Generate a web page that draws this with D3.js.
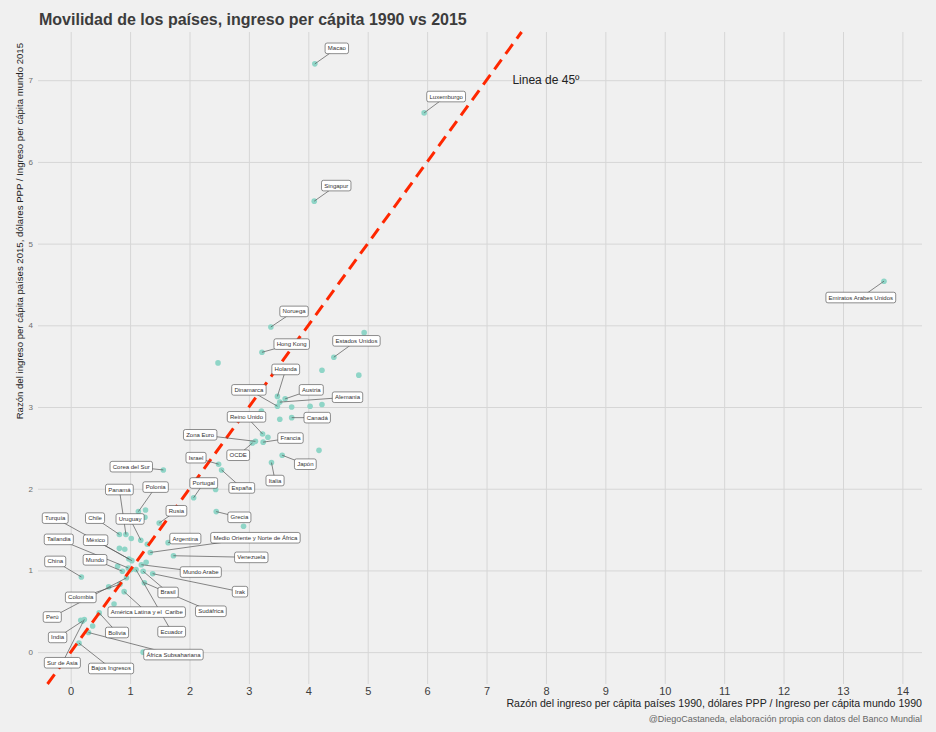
<!DOCTYPE html>
<html>
<head>
<meta charset="utf-8">
<script src="https://cdn.jsdelivr.net/npm/d3@7"></script>
<style>
  body { margin: 0; background: #f0f0f0; }
  text { font-family: "Liberation Sans", Arial, Helvetica, sans-serif; }
  .lbl text { white-space: pre; }
</style>
</head>
<body>
<svg id="chart"></svg>
<script>
// países con etiqueta: ingreso relativo 1990 (x), 2015 (y), y donde cae la etiqueta (unidades de datos)
paises = ["Macao", "Luxemburgo", "Singapur", "Emiratos Arabes Unidos", "Noruega", "Hong Kong",
  "Estados Unidos", "Holanda", "Austria", "Alemania", "Dinamarca", "Canadá", "Reino Unido",
  "Francia", "OCDE", "Zona Euro", "Japón", "Italia", "Israel", "España", "Corea del Sur",
  "Portugal", "Polonia", "Panamá", "Chile", "Uruguay", "Rusia", "Grecia", "Argentina",
  "Medio Oriente y Norte de África", "Venezuela", "Turquía", "México", "Tailandia", "Mundo",
  "China", "Mundo Arabe", "Irak", "Brasil", "Sudáfrica", "Colombia", "Perú",
  "América Latina y el  Caribe", "Ecuador", "India", "Bolivia", "África Subsahariana",
  "Sur de Asia", "Bajos Ingresos"];
ingreso1990 = [4.11, 5.95, 4.10, 13.69, 3.37, 3.22, 4.43, 3.48, 3.61, 3.52, 3.48, 3.72, 3.23,
  3.24, 3.06, 3.11, 3.56, 3.38, 2.49, 2.54, 1.56, 2.07, 1.14, 0.93, 0.82, 1.18, 1.49, 2.45, 1.64,
  1.34, 1.73, 1.03, 0.98, 0.97, 0.87, 0.18, 1.19, 1.38, 1.22, 1.24, 0.83, 0.94, 0.90, 1.10, 0.20,
  0.48, 0.30, 0.23, 0.14];
ingreso2015 = [7.20, 6.60, 5.52, 4.54, 3.98, 3.67, 3.61, 3.13, 3.10, 3.06, 3.01, 2.87, 2.67,
  2.57, 2.56, 2.58, 2.41, 2.32, 2.30, 2.23, 2.23, 1.89, 1.72, 1.44, 1.44, 1.37, 1.58, 1.72, 1.34,
  1.22, 1.18, 1.12, 1.14, 1.03, 0.99, 0.92, 1.07, 0.96, 0.99, 0.85, 0.83, 0.91, 0.74, 1.01, 0.38,
  0.48, 0.24, 0.40, 0.11];
etiquetaX = [4.48, 6.32, 4.47, 13.30, 3.76, 3.72, 4.81, 3.62, 4.05, 4.66, 3.00, 4.15, 2.96,
  3.70, 2.82, 2.18, 3.95, 3.44, 2.11, 2.88, 1.02, 2.24, 1.43, 0.82, 0.41, 1.00, 1.78, 2.84, 1.93,
  3.11, 3.04, -0.26, 0.42, -0.20, 0.41, -0.26, 2.19, 2.85, 1.64, 2.36, 0.17, -0.31, 1.28, 1.70,
  -0.22, 0.78, 1.73, -0.14, 0.68];
etiquetaY = [7.39, 6.80, 5.71, 4.34, 4.17, 3.77, 3.81, 3.46, 3.21, 3.12, 3.21, 2.87, 2.88,
  2.62, 2.41, 2.66, 2.30, 2.10, 2.38, 2.01, 2.27, 2.07, 2.02, 1.99, 1.64, 1.63, 1.73, 1.65, 1.39,
  1.40, 1.16, 1.64, 1.37, 1.38, 1.13, 1.11, 0.98, 0.74, 0.73, 0.50, 0.67, 0.43, 0.49, 0.25,
  0.18, 0.24, -0.03, -0.13, -0.20];

// resto de países, sin etiqueta
otros1990 = [2.48, 4.94, 4.23, 4.85, 3.72, 4.03, 4.23, 3.21, 3.52, 3.32, 4.18, 2.44, 1.26, 1.25,
  1.02, 2.91, 0.82, 0.91, 0.79, 1.02, 1.27, 1.29, 0.64, 0.73, 0.37, 0.17, 1.22];
otros2015 = [3.54, 3.91, 3.45, 3.39, 3.00, 3.01, 3.03, 2.95, 2.85, 2.63, 2.47, 1.99, 1.74, 1.65,
  1.39, 1.54, 1.27, 1.26, 1.05, 1.01, 1.10, 1.32, 0.80, 0.59, 0.32, 0.39, 0.00];

xTicks = d3.range(0, 15);
yTicks = d3.range(0, 8);

W = 936; H = 732;
svg = d3.select('#chart').attr('width', W).attr('height', H);
svg.append('rect').attr('width', W).attr('height', H).attr('fill', '#f0f0f0');

x = d3.scaleLinear().domain([-0.55, 14.33]).range([38, 922]);
y = d3.scaleLinear().domain([-0.39, 7.59]).range([684, 32]);

// grid + axes
gx = svg.append('g').attr('transform', 'translate(0,684)')
  .call(d3.axisBottom(x).tickValues(xTicks).tickSize(-(684 - 32)).tickPadding(3));
gy = svg.append('g').attr('transform', 'translate(38,0)')
  .call(d3.axisLeft(y).tickValues(yTicks).tickSize(-(922 - 38)).tickPadding(5));
svg.selectAll('.domain').remove();
svg.selectAll('.tick line').attr('stroke', '#d6d6d6').attr('stroke-width', 1);
gx.selectAll('text').attr('font-size', 11).attr('fill', '#3c3c3c')
  .style('font-family', '"Liberation Sans", Arial, sans-serif');
gy.selectAll('text').attr('font-size', 8).attr('fill', '#6e6e6e')
  .style('font-family', '"Liberation Sans", Arial, sans-serif');

// all points
todos = paises.map(function(p, i) { return [ingreso1990[i], ingreso2015[i]]; })
  .concat(otros1990.map(function(v, i) { return [v, otros2015[i]]; }));

svg.append('g').selectAll('circle').data(todos).enter()
  .append('circle')
  .attr('cx', function(d) { return x(d[0]) })
  .attr('cy', function(d) { return y(d[1]) })
  .attr('r', 2.8)
  .attr('fill', '#8fd5c7');

// linea de 45
lo = y.domain()[0], hi = y.domain()[1];
svg.append('path')
  .attr('d', d3.line().x(function(d) { return x(d) }).y(function(d) { return y(d) })([lo, hi]))
  .attr('stroke', '#ff2700')
  .attr('stroke-width', 3)
  .attr('stroke-dasharray', '12,7')
  .attr('fill', 'none');

svg.append('text')
  .attr('x', x(8)).attr('y', y(7))
  .attr('text-anchor', 'middle').attr('dominant-baseline', 'central')
  .attr('font-size', 12).attr('fill', '#222')
  .text('Linea de 45º');

// labels (segment first, then the box on top)
labels = paises.map(function(p, i) {
  return { name: p, px: ingreso1990[i], py: ingreso2015[i], lx: etiquetaX[i], ly: etiquetaY[i] };
});

svg.append('g').selectAll('line').data(labels).enter()
  .append('line')
  .attr('x1', function(d) { return x(d.px) })
  .attr('y1', function(d) { return y(d.py) })
  .attr('x2', function(d) { return x(d.lx) })
  .attr('y2', function(d) { return y(d.ly) })
  .attr('stroke', '#555')
  .attr('stroke-width', 0.7);

lg = svg.append('g').attr('class', 'lbl').selectAll('g').data(labels).enter()
  .append('g')
  .attr('transform', function(d) { return `translate(${x(d.lx)},${y(d.ly)})` });

lg.append('rect').attr('rx', 2).attr('ry', 2)
  .attr('fill', 'white').attr('stroke', '#444').attr('stroke-width', 0.6);

lg.append('text')
  .attr('text-anchor', 'middle')
  .attr('dominant-baseline', 'central')
  .attr('font-size', 6)
  .attr('fill', '#333')
  .text(function(d) { return d.name })
  .each(function(d) { d.w = this.getComputedTextLength(); });

lg.select('rect')
  .attr('x', function(d) { return -d.w / 2 - 2.7 })
  .attr('y', -5.3)
  .attr('width', function(d) { return d.w + 5.4 })
  .attr('height', 10.6);

// titles
svg.append('text')
  .attr('x', 39).attr('y', 25)
  .attr('font-size', 16).attr('font-weight', 'bold').attr('fill', '#3c3c3c')
  .text('Movilidad de los países, ingreso per cápita 1990 vs 2015');

svg.append('text')
  .attr('x', 922).attr('y', 707)
  .attr('text-anchor', 'end').attr('font-size', 10.6).attr('fill', '#222')
  .text('Razón del ingreso per cápita países 1990, dólares PPP / Ingreso per cápita mundo 1990');

svg.append('text')
  .attr('transform', 'translate(23,43) rotate(-90)')
  .attr('text-anchor', 'end').attr('font-size', 9.6).attr('fill', '#222')
  .text('Razón del ingreso per cápita países 2015, dólares PPP / Ingreso per cápita mundo 2015');

svg.append('text')
  .attr('x', 922).attr('y', 722)
  .attr('text-anchor', 'end').attr('font-size', 9).attr('fill', '#666')
  .text('@DiegoCastaneda, elaboración propia con datos del Banco Mundial');
</script>
</body>
</html>
